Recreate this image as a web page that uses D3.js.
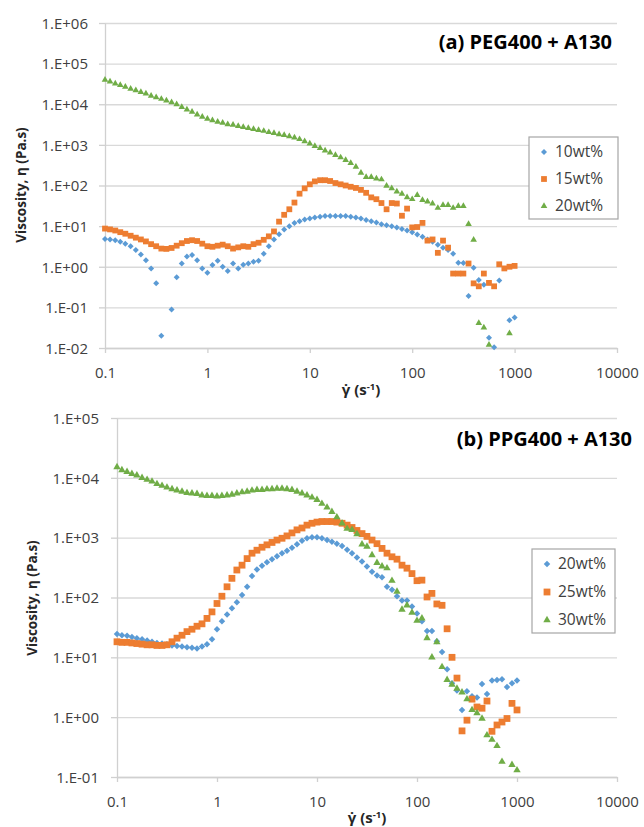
<!DOCTYPE html>
<html>
<head>
<meta charset="utf-8">
<script src="https://cdn.jsdelivr.net/npm/d3@7"></script>
<style>
body { margin: 0; background: #fff; }
svg text { font-family: "Open Sans", sans-serif; }
</style>
</head>
<body>
<svg id="chart" width="644" height="827"></svg>
<script>
// shear rate grid (s-1), 20 points per decade, shared by all series
var rate = [0.1, 0.112, 0.126, 0.141, 0.158, 0.178, 0.2, 0.224, 0.251, 0.282,
    0.316, 0.355, 0.398, 0.447, 0.501, 0.562, 0.631, 0.708, 0.794, 0.891,
    1, 1.12, 1.26, 1.41, 1.58, 1.78, 2, 2.24, 2.51, 2.82,
    3.16, 3.55, 3.98, 4.47, 5.01, 5.62, 6.31, 7.08, 7.94, 8.91,
    10, 11.2, 12.6, 14.1, 15.8, 17.8, 20, 22.4, 25.1, 28.2,
    31.6, 35.5, 39.8, 44.7, 50.1, 56.2, 63.1, 70.8, 79.4, 89.1,
    100, 112, 126, 141, 158, 178, 200, 224, 251, 282,
    316, 355, 398, 447, 501, 562, 631, 708, 794, 891,
    1000];

// (a) PEG400 + A130, viscosity in Pa.s (null = not shown)
var peg10 = [4.8, 4.7, 4.5, 4.1, 3.7, 3.2, 2.6, 2.0, 1.45, 0.91,
    0.39, 0.02, null, 0.089, 0.55, 1.2, 1.78, 1.95, 1.45, 0.91,
    0.71, 1.1, 1.41, 1.0, 0.79, 1.2, 0.91, 1.12, 1.2, 1.32,
    1.41, 2.1, 3.2, 4.7, 6.3, 8.3, 10, 12, 13.2, 14.5,
    15.5, 16.2, 17, 17.8, 17.8, 17.8, 17.8, 17.8, 17, 16.2,
    15.5, 14.1, 13.2, 12.3, 11.2, 10.5, 10, 9.3, 8.5, 7.8,
    7.1, 6.2, 5.5, 4.7, 4.1, 3.5, 2.95, 2.6, 2.1, 1.26,
    1.23, 0.19, 0.95, 0.47, 0.36, 0.018, 0.0105, 0.46, null, 0.048,
    0.056];
var peg15 = [8.7, 8.3, 7.8, 7.1, 6.5, 5.8, 5.2, 4.7, 4.2, 3.6,
    3.2, 2.8, 2.75, 2.9, 3.3, 3.8, 4.3, 4.5, 4.3, 3.7,
    3.2, 3.1, 3.3, 3.5, 3.2, 2.8, 3.0, 3.2, 3.1, 3.6,
    3.9, 4.6, 5.6, 7.4, 12.9, 19, 26, 38, 63, 85,
    107, 126, 135, 135, 129, 115, 107, 100, 93, 87,
    78, 66, 51, 46, 37, 26, 37, 36, 18, 27,
    9.3, 9.5, 12, 4.4, 4.7, 2.2, 4.4, 2.95, 0.68, 0.68,
    0.68, 1.2, 0.39, 0.33, 0.68, 0.40, 0.33, 1.15, 0.91, 1.0,
    1.05];
var peg20 = [39800, 36300, 32400, 29500, 26900, 24000, 21900, 20000, 18200, 16200,
    14800, 13500, 12300, 11200, 10000, 8500, 7400, 6500, 5600, 4900,
    4400, 4000, 3700, 3500, 3200, 3100, 2900, 2750, 2600, 2450,
    2300, 2200, 2050, 1950, 1820, 1740, 1620, 1510, 1380, 1230,
    1070, 930, 830, 720, 645, 560, 490, 425, 355, 288,
    204, 162, 162, 148, 141, 98, 85, 71, 62, 51,
    46, 58, 44, 40, 36, 28, 33, 33, 28, 31,
    31, 11.2, 4.6, 0.041, 0.032, 0.012, null, null, null, 0.023,
    null];

// (b) PPG400 + A130
var ppg20 = [24.5, 23.4, 22.9, 21.9, 20.9, 20.0, 19.1, 18.2, 17.4, 17.0,
    16.6, 15.8, 15.5, 15.1, 14.8, 14.5, 14.1, 15.1, 16.6, 20,
    29.5, 40, 52, 66, 83, 110, 151, 229, 295, 339,
    389, 437, 490, 550, 603, 676, 776, 891, 977, 1020,
    1020, 977, 912, 851, 794, 724, 631, 550, 468, 398,
    331, 269, 234, 219, 151, 135, 105, 89, 89, 71,
    54, 40, 27.5, 27.5, 18.6, 12.3, 6.3, 3.7, 2.8, 1.32,
    2.7, 2.24, 2.14, 3.6, 2.45, 4.1, 4.2, 4.3, 3.2, 3.7,
    4.1];
var ppg25 = [18.2, 17.8, 17.8, 17.4, 17.0, 16.6, 16.2, 16.2, 15.8, 15.8,
    16.2, 18.2, 20.9, 23.4, 26.9, 29.5, 33.1, 36.3, 44.7, 57.5,
    79.4, 105, 151, 209, 288, 347, 447, 550, 617, 692,
    759, 832, 912, 977, 1070, 1200, 1350, 1450, 1620, 1740,
    1820, 1860, 1860, 1860, 1820, 1740, 1620, 1480, 1320, 1170,
    1050, 912, 794, 661, 550, 479, 437, 347, 309, 251,
    191, 195, 102, 117, 78, 74, 30, 10, 4.5, 0.59,
    0.89, 2.0, 1.48, 1.41, 1.86, 0.58, 0.74, 0.83, 0.95, 1.7,
    1.32];
var ppg30 = [15100, 13500, 12600, 11700, 11000, 10000, 9300, 8700, 7900, 7400,
    6900, 6500, 6200, 5900, 5600, 5500, 5400, 5100, 5000, 5000,
    4900, 5000, 5100, 5250, 5500, 5750, 5900, 6150, 6300, 6300,
    6450, 6500, 6600, 6600, 6500, 6300, 5900, 5500, 5100, 4700,
    4300, 3700, 3200, 2700, 2200, 1740, 1410, 1350, 1150, 776,
    708, 513, 380, 331, 309, 191, 126, 63, 74, 56,
    41, 45, 21, 10, 18, 6.9, 4.2, 3.5, 3.0, 2.6,
    2.0, 1.32, 1.17, 0.95, 0.50, 0.42, 0.33, 0.18, null, 0.16,
    0.13];

var xTicks = [0.1, 1, 10, 100, 1000, 10000];
var legendA = ["10wt%", "15wt%", "20wt%"];
var legendB = ["20wt%", "25wt%", "30wt%"];
var colors = ["#5b9bd5", "#ed7d31", "#70ad47"];
var shapes = ["diamond", "square", "triangle"];

var svg = d3.select("#chart");

function fmtE(d) {
    var e = Math.round(Math.log10(d));
    return "1.E" + (e < 0 ? "-" : "+") + (Math.abs(e) < 10 ? "0" : "") + Math.abs(e);
}

function marker(sel, shape, s) {
    if (shape == "square")
        sel.attr("d", d3.symbol(d3.symbolSquare, s * s)());
    else if (shape == "diamond")
        sel.attr("d", d3.symbol(d3.symbolSquare, s * s / 2)())
            .attr("transform", function () { return d3.select(this).attr("transform") + " rotate(45)"; });
    else
        sel.attr("d", d3.symbol(d3.symbolTriangle, s * s * 0.433)());
}

function drawPanel(p) {
    var x = d3.scaleLog().domain([0.1, 10000]).range([p.left, p.right]);
    var y = d3.scaleLog().domain([p.yMin, p.yMax]).range([p.bottom, p.top]);
    var yTicks = d3.range(Math.log10(p.yMin), Math.log10(p.yMax) + 1).map(function (e) { return Math.pow(10, e); });

    var g = svg.append("g");

    // gridlines
    g.append("g")
        .attr("transform", "translate(" + p.left + ",0)")
        .call(d3.axisLeft(y).tickValues(yTicks).tickFormat("").tickSize(-(p.right - p.left)).tickSizeOuter(0))
        .call(function (a) { a.select(".domain").remove(); })
        .selectAll("line").attr("stroke", "#d9d9d9").attr("stroke-width", 1.3);

    // y axis with outside ticks
    var ya = g.append("g")
        .attr("transform", "translate(" + p.left + ",0)")
        .call(d3.axisLeft(y).tickValues(yTicks).tickFormat(fmtE).tickSize(6).tickSizeOuter(0).tickPadding(p.labelPad));
    ya.selectAll("line, .domain").attr("stroke", "#d0d0d0").attr("stroke-width", 1.3);
    ya.selectAll("text").attr("fill", "#404040").style("font-size", "15px").attr("dy", "0.35em");

    // x axis
    var xa = g.append("g")
        .attr("transform", "translate(0," + p.bottom + ")")
        .call(d3.axisBottom(x).tickValues(xTicks).tickFormat(function (d) { return String(d); }).tickSize(5).tickSizeOuter(0));
    xa.selectAll("line, .domain").attr("stroke", "#d0d0d0").attr("stroke-width", 1.3);
    xa.selectAll("text").attr("fill", "#404040").style("font-size", "15px").attr("y", 19).attr("dy", "0.71em");

    // data points
    p.series.forEach(function (vals, k) {
        var pts = vals.map(function (v, i) { return {x: rate[i], v: v}; })
            .filter(function (d) { return d.v != null; });
        g.append("g").selectAll("path")
            .data(pts)
            .enter()
            .append("path")
            .attr("transform", function (d) { return "translate(" + x(d.x) + "," + y(d.v) + ")"; })
            .attr("fill", colors[k])
            .call(marker, shapes[k], p.size[k]);
    });

    // panel title
    g.append("text")
        .attr("x", p.titleX).attr("y", p.titleY)
        .attr("text-anchor", "end")
        .style("font-size", "20px").style("font-weight", "bold")
        .attr("fill", "#000")
        .text(p.title);

    // legend
    var lg = g.append("g");
    lg.append("rect")
        .attr("x", p.legend.x).attr("y", p.legend.y)
        .attr("width", p.legend.w).attr("height", p.legend.h)
        .attr("fill", "#fff").attr("stroke", "#a6a6a6").attr("stroke-width", 1.2);
    p.names.forEach(function (name, k) {
        var ry = p.legend.y + p.legend.first + k * p.legend.step;
        lg.append("path")
            .attr("transform", "translate(" + (p.legend.x + 15) + "," + ry + ")")
            .attr("fill", colors[k])
            .call(marker, shapes[k], p.size[k]);
        lg.append("text")
            .attr("x", p.legend.x + 26).attr("y", ry)
            .attr("dy", "0.35em")
            .style("font-size", "15.5px")
            .attr("fill", "#404040")
            .text(name);
    });

    // axis titles
    g.append("text")
        .attr("transform", "translate(" + p.yTitle[0] + "," + p.yTitle[1] + ") rotate(-90)")
        .attr("text-anchor", "middle")
        .attr("dy", "0.35em")
        .style("font-size", "13.5px").style("font-weight", "bold")
        .attr("fill", "#262626")
        .text("Viscosity, η (Pa.s)");

    var xt = g.append("text")
        .attr("x", (p.left + p.right) / 2).attr("y", p.xTitleY)
        .attr("text-anchor", "middle")
        .style("font-size", "15px").style("font-weight", "bold")
        .attr("fill", "#262626");
    xt.append("tspan").text("γ̇ (s");
    xt.append("tspan").attr("dy", -5).style("font-size", "9.5px").text("-1");
    xt.append("tspan").attr("dy", 5).text(")");
}

drawPanel({
    left: 105, right: 617, top: 23, bottom: 348,
    yMin: 1e-2, yMax: 1e6, labelPad: 11,
    series: [peg10, peg15, peg20], names: legendA,
    size: [6, 5.8, 6.6],
    title: "(a) PEG400 + A130", titleX: 612, titleY: 49,
    legend: {x: 529, y: 137, w: 89, h: 82, first: 15, step: 27},
    yTitle: [21, 185], xTitleY: 395
});

drawPanel({
    left: 117, right: 617, top: 418, bottom: 777,
    yMin: 1e-1, yMax: 1e5, labelPad: 12,
    series: [ppg20, ppg25, ppg30], names: legendB,
    size: [6.5, 6.8, 7.4],
    title: "(b) PPG400 + A130", titleX: 632, titleY: 446,
    legend: {x: 532, y: 549, w: 83, h: 84, first: 15, step: 28},
    yTitle: [32, 598], xTitleY: 823
});
</script>
</body>
</html>
